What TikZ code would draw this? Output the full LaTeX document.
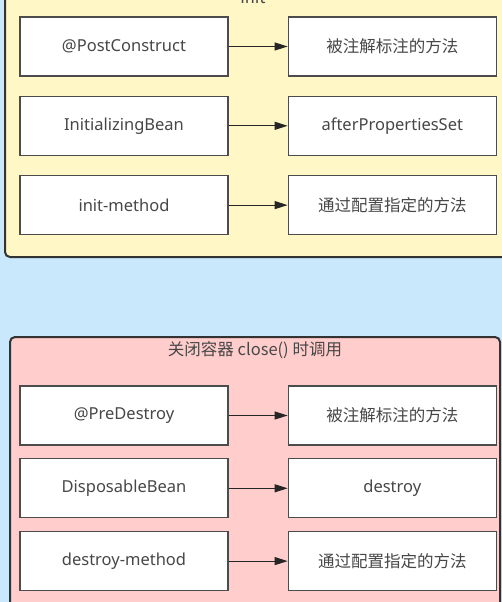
\documentclass[tikz,border=0pt]{standalone}
\usepackage{fontspec}
\setmainfont{Noto Sans}
\newfontfamily\cjk{Noto Sans CJK SC}
\usetikzlibrary{positioning, arrows.meta}
\definecolor{bgblue}{HTML}{C9E8FC}
\definecolor{initfill}{HTML}{FFF8C6}
\definecolor{closefill}{HTML}{FFCDCC}
\definecolor{txtgray}{HTML}{474747}

\begin{document}
\begin{tikzpicture}[x=1pt, y=-1pt,
     node distance = 19pt and 59pt,
        box/.style = {rectangle, draw=black!70, line width=1.3pt, fill=white, minimum width=208pt, minimum height=59pt, inner sep=0pt, text=txtgray, font=\fontsize{16.5}{20}\selectfont},
        grp/.style = {rectangle, draw=black!80, line width=2pt, rounded corners=5pt},
      title/.style = {text=txtgray, font=\cjk\fontsize{16.5}{20}\selectfont},
        arr/.style = {-{Triangle[length=13pt,width=8pt]}, line width=1pt, draw=black!85}
                        ]
\clip (0,0) rectangle (502,602);
\fill[bgblue] (0,0) rectangle (502,602);
% containers
\node (initgrp)  [grp, fill=initfill, minimum width=510pt, minimum height=287pt] at (260,113.5) {};
\node (closegrp) [grp, fill=closefill, minimum width=490pt, minimum height=303pt] at (255,488.5) {};
\node (inittitle)  [title] at (253,-3) {init};
\node (closetitle) [title] at (255,350) {关闭容器 close() 时调用};
% init
\node (pc)  [box] at (124,46.5) {@PostConstruct};
\node (pcm) [box, right=of pc] {\cjk 被注解标注的方法};
\node (ib)  [box, below=of pc] {InitializingBean};
\node (aps) [box, right=of ib] {afterPropertiesSet};
\node (im)  [box, below=of ib] {init-method};
\node (imm) [box, right=of im] {\cjk 通过配置指定的方法};
% close
\node (pd)  [box] at (124,415.5) {@PreDestroy};
\node (pdm) [box, right=of pd] {\cjk 被注解标注的方法};
\node (db)  [box, below=12.5pt of pd] {DisposableBean};
\node (dst) [box, right=of db] {destroy};
\node (dm)  [box, below=12.5pt of db] {destroy-method};
\node (dmm) [box, right=of dm] {\cjk 通过配置指定的方法};
\draw[arr] (pc) to (pcm);
\draw[arr] (ib) to (aps);
\draw[arr] (im) to (imm);
\draw[arr] (pd) to (pdm);
\draw[arr] (db) to (dst);
\draw[arr] (dm) to (dmm);
\end{tikzpicture}
\end{document}
